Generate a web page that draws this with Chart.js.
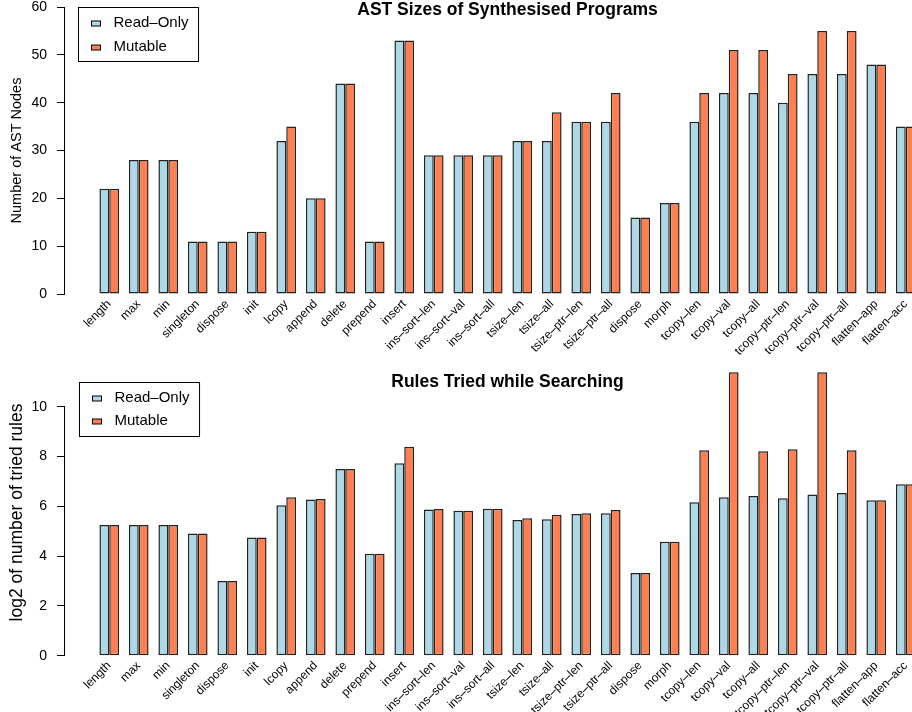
<!DOCTYPE html>
<html>
<head>
<meta charset="utf-8">
<title>AST sizes and rules tried</title>
<script src="https://cdn.jsdelivr.net/npm/chart.js@4.4.0/dist/chart.umd.min.js"></script>
<style>
  html, body { margin: 0; padding: 0; background: #fff; width: 912px; height: 712px; overflow: hidden; }
  .panel { position: relative; width: 1016px; height: 356px; }
</style>
</head>
<body>
<div class="panel"><canvas id="astChart"></canvas></div>
<div class="panel"><canvas id="rulesChart"></canvas></div>
<script>
const programs = ['length', 'max', 'min', 'singleton', 'dispose', 'init', 'lcopy', 'append', 'delete', 'prepend',
  'insert', 'ins–sort–len', 'ins–sort–val', 'ins–sort–all', 'tsize–len', 'tsize–all', 'tsize–ptr–len',
  'tsize–ptr–all', 'dispose', 'morph', 'tcopy–len', 'tcopy–val', 'tcopy–all', 'tcopy–ptr–len',
  'tcopy–ptr–val', 'tcopy–ptr–all', 'flatten–app', 'flatten–acc'];
const seriesNames = ['Read–Only', 'Mutable'];
const seriesColors = ['#ADD8E6', '#FF7F50'];

// AST sizes (number of nodes)
const astReadOnly = [22, 28, 28, 11, 11, 13, 32, 20, 44, 11, 53, 29, 29, 29, 32, 32, 36, 36, 16, 19, 36, 42, 42, 40, 46, 46, 48, 35];
const astMutable  = [22, 28, 28, 11, 11, 13, 35, 20, 44, 11, 53, 29, 29, 29, 32, 38, 36, 42, 16, 19, 42, 51, 51, 46, 55, 55, 48, 35];
const astTicks = [0, 10, 20, 30, 40, 50, 60];

// log2 of the number of tried rules
const rulesReadOnly = [5.25, 5.25, 5.25, 4.91, 3.0, 4.75, 6.04, 6.27, 7.50, 4.09, 7.73, 5.87, 5.82, 5.90, 5.45, 5.48, 5.69, 5.72, 3.32, 4.58, 6.16, 6.36, 6.41, 6.32, 6.47, 6.53, 6.24, 6.88];
const rulesMutable  = [5.25, 5.25, 5.25, 4.91, 3.0, 4.75, 6.36, 6.29, 7.50, 4.09, 8.39, 5.89, 5.82, 5.90, 5.52, 5.66, 5.72, 5.85, 3.32, 4.58, 8.25, 11.38, 8.21, 8.29, 11.38, 8.25, 6.24, 6.88];
const rulesTicks = [0, 2, 4, 6, 8, 10];

const FONT = '"Liberation Sans", Arial, Helvetica, sans-serif';
Chart.defaults.font.family = FONT;
Chart.defaults.color = '#000';
Chart.defaults.animation = false;

// R style y axis line: only from first to last tick
const axisLine = {
  id: 'axisLine',
  afterDraw(chart) {
    const y = chart.scales.y, ctx = chart.ctx;
    const x = Math.round(chart.chartArea.left) - 0.5;
    ctx.save();
    ctx.strokeStyle = '#000';
    ctx.lineWidth = 1;
    ctx.beginPath();
    ctx.moveTo(x, y.getPixelForValue(y.ticks[0].value));
    ctx.lineTo(x, y.getPixelForValue(y.ticks[y.ticks.length - 1].value));
    ctx.stroke();
    ctx.restore();
  }
};

// title centred over the plot region
const panelTitle = {
  id: 'panelTitle',
  afterDraw(chart, args, opts) {
    const ctx = chart.ctx, area = chart.chartArea;
    ctx.save();
    ctx.font = 'bold 17.5px ' + FONT;
    ctx.fillStyle = '#000';
    ctx.textAlign = 'center';
    ctx.textBaseline = 'middle';
    ctx.fillText(opts.text, (area.left + area.right) / 2, opts.y);
    ctx.restore();
  }
};

// boxed legend in the top left corner
const boxLegend = {
  id: 'boxLegend',
  afterDraw(chart, args, opts) {
    const ctx = chart.ctx;
    const left = Math.round(chart.chartArea.left + opts.dx) + 0.5;
    const top = opts.top + 0.5;
    ctx.save();
    ctx.font = '15px ' + FONT;
    const textW = Math.max(...chart.data.datasets.map(d => ctx.measureText(d.label).width));
    const w = 35 + textW + 10, h = 54;
    ctx.fillStyle = '#fff';
    ctx.fillRect(left, top, w, h);
    ctx.strokeStyle = '#000';
    ctx.lineWidth = 1;
    ctx.strokeRect(left, top, w, h);
    chart.data.datasets.forEach((ds, i) => {
      const cy = Math.round(opts.top + 16 + i * opts.gap);
      ctx.fillStyle = ds.backgroundColor;
      ctx.fillRect(left + 13, cy - 2, 9, 5);
      ctx.strokeRect(left + 13, cy - 2, 9, 5);
      ctx.fillStyle = '#000';
      ctx.textAlign = 'left';
      ctx.textBaseline = 'middle';
      ctx.fillText(ds.label, left + 35, cy);
    });
    ctx.restore();
  }
};

const makeChart = (id, readOnly, mutable, cfg) => {
  const ctx = document.getElementById(id).getContext('2d');
  // an empty slot either side gives the R barplot gap next to the axis
  const labels = [''].concat(programs, ['']);
  const pad = arr => [null].concat(arr, [null]);
  return new Chart(ctx, {
    type: 'bar',
    data: {
      labels: labels,
      datasets: [readOnly, mutable].map((vals, i) => ({
        label: seriesNames[i],
        data: pad(vals),
        backgroundColor: seriesColors[i],
        borderColor: '#222',
        borderWidth: 1.5,
        borderSkipped: false,
        categoryPercentage: 2 / 3,
        barPercentage: 1
      }))
    },
    plugins: [axisLine, panelTitle, boxLegend],
    options: {
      responsive: true,
      maintainAspectRatio: false,
      layout: { padding: { top: cfg.top, right: 66, left: 0, bottom: 0 } },
      plugins: {
        legend: { display: false },
        tooltip: { enabled: false },
        panelTitle: { text: cfg.title, y: cfg.titleY },
        boxLegend: { dx: cfg.legendDx, top: cfg.legendTop, gap: cfg.legendGap }
      },
      scales: {
        x: {
          grid: { display: false },
          border: { display: false },
          ticks: { autoSkip: false, maxRotation: 45, minRotation: 45, padding: -5, font: { size: 12 } },
          afterFit: s => { s.height = cfg.xHeight; s.paddingLeft = 0; s.paddingRight = 0; }
        },
        y: {
          min: 0,
          max: cfg.max,
          border: { display: false },
          grid: { display: true, drawOnChartArea: false, drawTicks: true, tickLength: 8, color: '#000' },
          ticks: { padding: 10, font: { size: 14 } },
          afterBuildTicks: s => { s.ticks = cfg.ticks.map(v => ({ value: v })); },
          title: { display: true, text: cfg.yTitle, font: { size: cfg.yTitleSize }, padding: { top: cfg.yTitlePad, bottom: 0 } },
          afterFit: s => { s.width = 65; s.paddingTop = 0; s.paddingBottom = 0; }
        }
      }
    }
  });
};

makeChart('astChart', astReadOnly, astMutable, {
  title: 'AST Sizes of Synthesised Programs', titleY: 10,
  top: 7, xHeight: 62, max: 60, ticks: astTicks,
  yTitle: 'Number of AST Nodes', yTitleSize: 14.5, yTitlePad: 8,
  legendDx: 13, legendTop: 7, legendGap: 24
});

makeChart('rulesChart', rulesReadOnly, rulesMutable, {
  title: 'Rules Tried while Searching', titleY: 26,
  top: 13.3, xHeight: 56.3, max: 11.5, ticks: rulesTicks,
  yTitle: 'log2 of number of tried rules', yTitleSize: 17.5, yTitlePad: 7,
  legendDx: 14, legendTop: 26, legendGap: 23
});
</script>
</body>
</html>
